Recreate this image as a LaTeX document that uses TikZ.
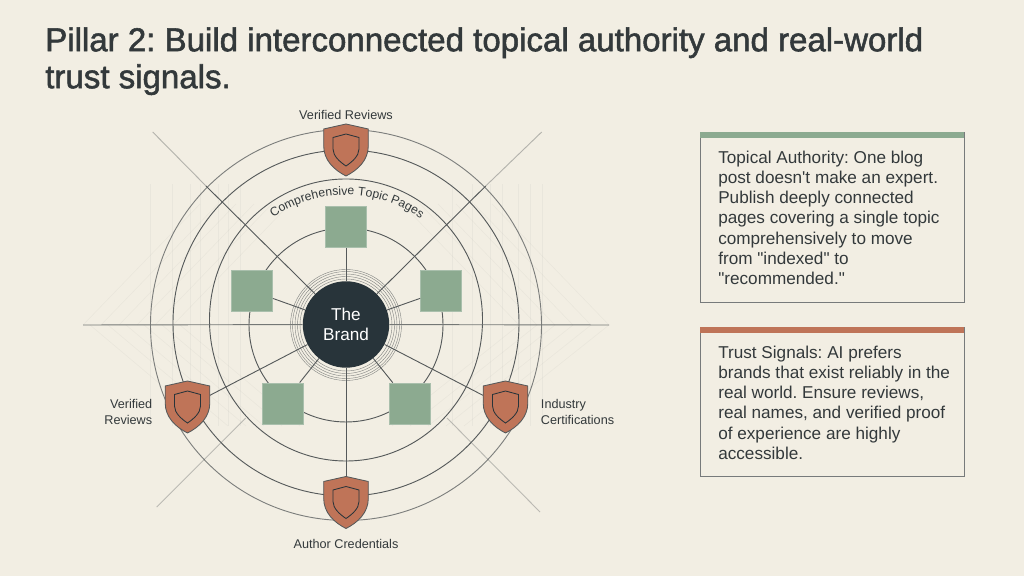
\documentclass[tikz,border=0pt]{standalone}
\usepackage{fontspec}
\setmainfont{Liberation Sans}
\newfontfamily\titlefont[FakeBold=1.6]{Liberation Sans}
\newfontfamily\bodyfont{Liberation Sans}
\usetikzlibrary{positioning,calc,decorations.text}
\definecolor{pgbg}{HTML}{F2EEE3}
\definecolor{pgink}{HTML}{33393B}
\definecolor{pgdark}{HTML}{28343A}
\definecolor{pgsage}{HTML}{8CAA90}
\definecolor{pgclay}{HTML}{BF7458}
\definecolor{pgline}{HTML}{55595A}
\frenchspacing

\begin{document}
\begin{tikzpicture}[
  x=0.025cm,y=0.025cm,
  hub/.style={circle,fill=pgdark,text=white,minimum size=2.16cm,inner sep=0pt,
              align=center,font=\fontsize{12.2}{14.4}\selectfont},
  topicsq/.style={rectangle,fill=pgsage,draw=pgsage!75!white,line width=.4pt,
              minimum size=1.03cm,inner sep=0pt},
  shieldbox/.style={rectangle,minimum width=1.1cm,minimum height=1.3cm,inner sep=0pt},
  lbl/.style={text=pgink,inner sep=0pt,font=\fontsize{9}{10.9}\selectfont},
  ring/.style={pgline,line width=.65pt},
  spoke/.style={pgline,line width=.65pt},
  hatch/.style={pgline,line width=.4pt,opacity=.05},
  panel/.style={rectangle,draw=pgline!80!white,line width=.5pt,minimum width=6.6cm,inner sep=0pt},
  panelbar/.style={rectangle,minimum width=6.6cm,minimum height=.16cm,inner sep=0pt},
  paneltext/.style={text=pgink,inner sep=0pt,align=left,
              font=\bodyfont\fontsize{12.2}{14.4}\selectfont},
  shield/.pic={
    \draw[fill=pgclay,draw=pgline,line width=.6pt]
      (0,26) -- (22.3,21) -- (22.3,4) .. controls (22.3,-10) and (12,-20) .. (0,-26)
      .. controls (-12,-20) and (-22.3,-10) .. (-22.3,4) -- (-22.3,21) -- cycle;
    \draw[draw=pgdark,line width=.6pt]
      (0,16) -- (13,12.5) -- (13,1) .. controls (13,-6) and (6,-12) .. (0,-16)
      .. controls (-6,-12) and (-13,-6) .. (-13,1) -- (-13,12.5) -- cycle;
  }
]
\fill[pgbg] (0,0) rectangle (1024,576);
\useasboundingbox (0,0) rectangle (1024,576);

% Title
\node[anchor=north west,inner sep=0pt,align=left,text=pgink,
      font=\titlefont\fontsize{23.5}{26.3}\selectfont] (title) at (45,549)
  {Pillar 2: Build interconnected topical authority and real-world\\trust signals.};

% Faint construction lines
\foreach \x in {150,172,190,200,218,228,240}
  \draw[hatch] (\x,392) -- (\x,150);
\foreach \x in {452,472,490,502,518,530,542}
  \draw[hatch] (\x,392) -- (\x,150);
\foreach \d in {0,18,...,90} {
  \draw[hatch] (83+\d,251) -- (200+\d,372);
  \draw[hatch] (609-\d,251) -- (492-\d,372);
  \draw[hatch] (90+\d,251) -- (210+\d,150);
  \draw[hatch] (609-\d,251) -- (482-\d,150);
}

% Rings
\draw[ring,opacity=.75] (346,251) circle (195.5);
\draw[ring] (346,253) circle (173);
\draw[ring] (346,256) ellipse (136.5 and 141);
\draw[ring] (346,251) circle (97);
\foreach \r in {46,48.5,51,53.5,55.5}
  \draw[pgline,line width=.3pt,opacity=.7] (346,251) circle (\r);

% Curved label
\path[decorate,decoration={text along path,text align=center,
      text={|\fontsize{8.7}{11}\selectfont\color{pgink}|Comprehensive Topic Pages}}]
  (346,251) ++(125:130) arc[start angle=125,end angle=54,radius=130];

% Hub, pages and shields
\node[hub] (brand) at (346,251.5) {The\\Brand};
\node[topicsq] (sqt) at (346,349) {};
\node[topicsq] (sql) at (252,285) {};
\node[topicsq] (sqr) at (441,285) {};
\node[topicsq] (sqbl) at (283,172.5) {};
\node[topicsq] (sqbr) at (409.5,172.5) {};
\node[shieldbox] (sht) at (346,426) {};
\node[shieldbox] (shl) at (187.5,169) {};
\node[shieldbox] (shr) at (505.5,169) {};
\node[shieldbox] (shb) at (346,73.5) {};

% Spoke end points
\coordinate (nwm) at (206,390);
\coordinate (nwe) at (152.7,444);
\coordinate (nem) at (485.7,390);
\coordinate (nee) at (541.7,444);
\coordinate (sws) at (245.7,158);
\coordinate (swe) at (156.7,69);
\coordinate (ses) at (447,158);
\coordinate (see) at (540,64);
\coordinate (wst) at (83,251);
\coordinate (est) at (609,251);

% Spokes
\draw[spoke] (sqt) -- (brand);
\draw[spoke] (sql) -- (brand);
\draw[spoke] (sqr) -- (brand);
\draw[spoke] (sqbl) -- (brand);
\draw[spoke] (sqbr) -- (brand);
\draw[spoke] (shl.center) -- (brand);
\draw[spoke] (shr.center) -- (brand);
\draw[spoke] (shb.center) -- (brand);
\draw[spoke] (nwm) -- (brand);
\draw[spoke] (nem) -- (brand);
\draw[spoke,opacity=.4] (nwe) -- (nwm);
\draw[spoke,opacity=.4] (nee) -- (nem);
\draw[spoke,opacity=.35] (sws) -- (swe);
\draw[spoke,opacity=.35] (ses) -- (see);
\draw[spoke,draw=pgline!80!pgbg] (wst) -- (brand);
\draw[spoke,draw=pgline!80!pgbg] (est) -- (brand);

\pic at (sht) {shield};
\pic at (shl) {shield};
\pic at (shr) {shield};
\pic at (shb) {shield};

% Shield labels
\node[lbl] (lt) at (346,461) {Verified Reviews};
\node[lbl,align=right,anchor=east] (ll) at (152.5,164) {Verified\\Reviews};
\node[lbl,align=left,anchor=west] (lr) at (540.7,164) {Industry\\Certifications};
\node[lbl] (lb) at (346,32) {Author Credentials};

% Right panels
\node[panel,anchor=north west,minimum height=4.26cm] (pa) at (700,444.3) {};
\node[panelbar,anchor=north west,fill=pgsage] (pabar) at (pa.north west) {};
\node[paneltext,anchor=north west] (patext) at (718,425.5)
  {Topical Authority: One blog\\post doesn't make an expert.\\Publish deeply connected\\pages covering a single topic\\comprehensively to move\\from "indexed" to\\"recommended."};

\node[panel,anchor=north west,minimum height=3.73cm] (pb) at (700,249.3) {};
\node[panelbar,anchor=north west,fill=pgclay] (pbbar) at (pb.north west) {};
\node[paneltext,anchor=north west] (pbtext) at (718,230.5)
  {Trust Signals: AI prefers\\brands that exist reliably in the\\real world. Ensure reviews,\\real names, and verified proof\\of experience are highly\\accessible.};

\end{tikzpicture}
\end{document}
